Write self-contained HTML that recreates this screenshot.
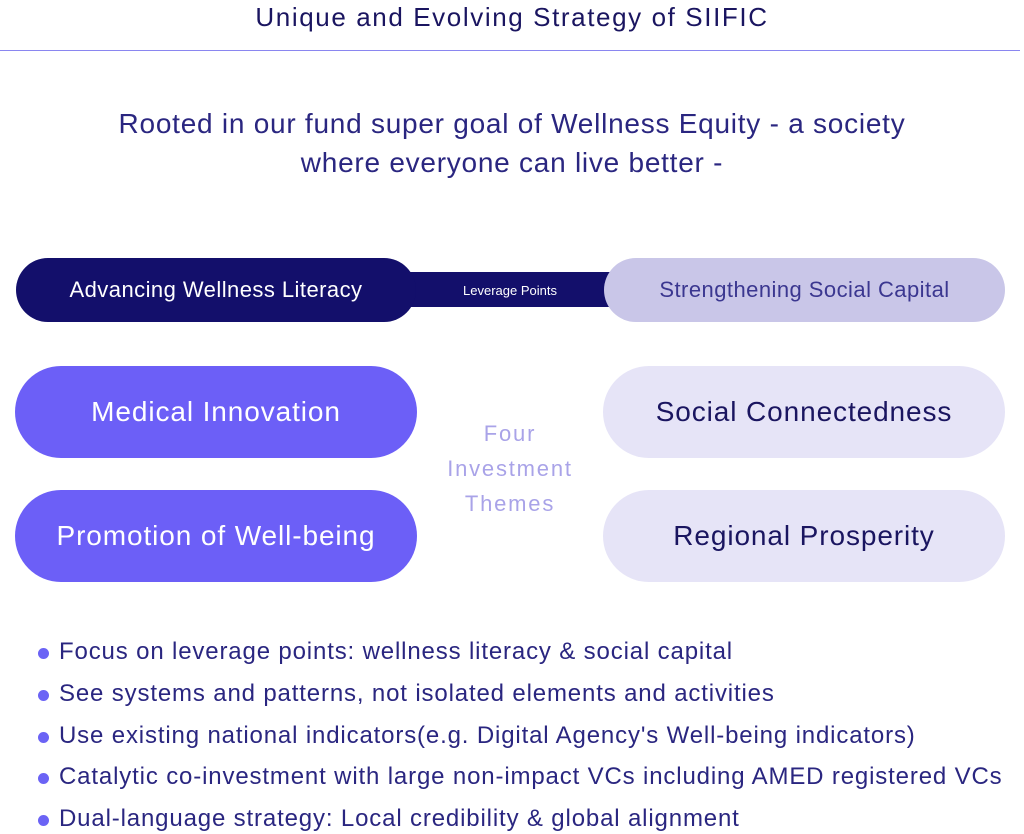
<!DOCTYPE html>
<html><head><style>
body{margin:0;width:1024px;height:834px;background:#fff;position:relative;overflow:hidden;font-family:"Liberation Sans",sans-serif}
.a{position:absolute}
.c{text-align:center}
.pill{position:absolute;display:flex;align-items:center;justify-content:center;white-space:nowrap}
.b{position:absolute;left:59px;font-size:24px;letter-spacing:0.85px;color:#2a2680;white-space:nowrap}
.b:before{content:"";position:absolute;left:-21px;top:10px;width:11px;height:11px;border-radius:50%;background:#6b63f5}
</style></head><body>
<div class="a c" style="left:0;width:1024px;top:2px;font-size:26px;letter-spacing:1.6px;color:#1a1560">Unique and Evolving Strategy of SIIFIC</div>
<div class="a" style="left:0;top:50px;width:1020px;height:1px;background:#8a86f0"></div>
<div class="a c" style="left:0;width:1024px;top:104px;font-size:28px;letter-spacing:0.75px;line-height:39px;color:#2a2680">Rooted in our fund super goal of Wellness Equity - a society<br>where everyone can live better -</div>
<div class="a" style="left:400px;top:272px;width:220px;height:35px;background:#130f6b"></div>
<div class="a c" style="left:405px;width:210px;top:283px;font-size:13px;color:#fff">Leverage Points</div>
<div class="pill" style="left:16px;top:258px;width:400px;height:64px;border-radius:32px;background:#130f6b;color:#fff;font-size:22px;letter-spacing:0.45px">Advancing Wellness Literacy</div>
<div class="pill" style="left:604px;top:258px;width:401px;height:64px;border-radius:32px;background:#c9c6e8;color:#3b3790;font-size:22px;letter-spacing:0.45px">Strengthening Social Capital</div>
<div class="pill" style="left:15px;top:366px;width:402px;height:92px;border-radius:46px;background:#6c5ff7;color:#fff;font-size:28px;letter-spacing:0.9px">Medical Innovation</div>
<div class="pill" style="left:15px;top:490px;width:402px;height:92px;border-radius:46px;background:#6c5ff7;color:#fff;font-size:28px;letter-spacing:0.9px">Promotion of Well-being</div>
<div class="pill" style="left:603px;top:366px;width:402px;height:92px;border-radius:46px;background:#e6e4f7;color:#1a1560;font-size:28px;letter-spacing:0.9px">Social Connectedness</div>
<div class="pill" style="left:603px;top:490px;width:402px;height:92px;border-radius:46px;background:#e6e4f7;color:#1a1560;font-size:28px;letter-spacing:0.9px">Regional Prosperity</div>
<div class="a c" style="left:400px;width:220px;top:416px;font-size:22px;line-height:35px;letter-spacing:1.8px;color:#a9a3e8">Four<br>Investment<br>Themes</div>
<div class="b" style="top:638px">Focus on leverage points: wellness literacy &amp; social capital</div>
<div class="b" style="top:680px">See systems and patterns, not isolated elements and activities</div>
<div class="b" style="top:722px">Use existing national indicators(e.g. Digital Agency's Well-being indicators)</div>
<div class="b" style="top:763px">Catalytic co-investment with large non-impact VCs including AMED registered VCs</div>
<div class="b" style="top:805px">Dual-language strategy: Local credibility &amp; global alignment</div>
</body></html>
